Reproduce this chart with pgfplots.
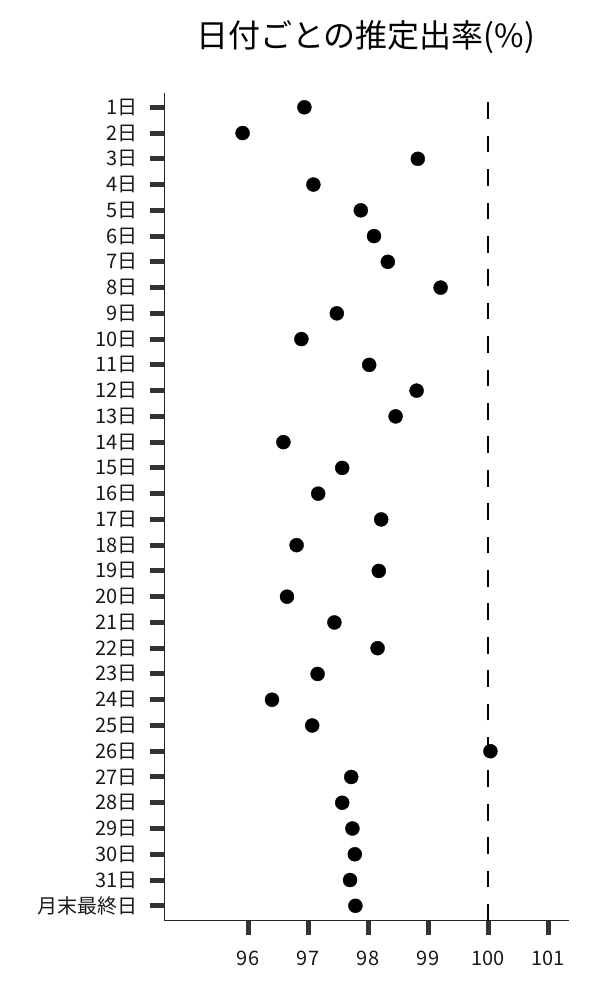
\documentclass[border=0pt]{standalone}
\usepackage{fontspec}
\setmainfont{Noto Sans CJK JP}
\usepackage{pgfplots}
\usepackage{pgfplotstable}
\pgfplotsset{compat=1.18}
\pgfplotstableread{
idx val
0 96.94
1 95.91
2 98.83
3 97.09
4 97.88
5 98.10
6 98.33
7 99.21
8 97.48
9 96.89
10 98.02
11 98.81
12 98.46
13 96.59
14 97.57
15 97.17
16 98.22
17 96.81
18 98.18
19 96.65
20 97.44
21 98.16
22 97.16
23 96.40
24 97.07
25 100.04
26 97.72
27 97.57
28 97.74
29 97.78
30 97.70
31 97.79
}\datatable
\begin{document}
\begin{tikzpicture}[x=1bp,y=1bp]
\useasboundingbox (0,0) rectangle (600,1000);
\begin{axis}[
  at={(164.3bp,79.3bp)}, anchor=south west,
  width=404.7bp, height=828bp, scale only axis,
  xmin=94.605, xmax=101.35,
  ymin=-0.567, ymax=31.58, y dir=reverse,
  axis x line*=bottom, axis y line*=left,
  axis line style={-, line width=1.3bp, black!85},
  xtick={96,97,98,99,100,101},
  ytick={0,...,31},
  yticklabels={1日,2日,3日,4日,5日,6日,7日,8日,9日,10日,11日,12日,13日,14日,15日,16日,17日,18日,19日,20日,21日,22日,23日,24日,25日,26日,27日,28日,29日,30日,31日,月末最終日},
  tick align=outside,
  major tick length=14.5bp,
  every tick/.style={line width=5bp, black!80},
  minor tick num=0,
  /pgf/number format/assume math mode=true,
  ticklabel style={font=\fontsize{20bp}{23bp}\selectfont, text=black!90},
  xticklabel style={yshift=-12bp},
  yticklabel style={xshift=-8.5bp},
  title={日付ごとの推定出率(\%)},
  title style={at={(0.5,1)}, anchor=center, yshift=50bp, xshift=-1.2bp, font=\fontsize{32bp}{36bp}\selectfont},
  clip=false,
]
\addplot[black, dash pattern=on 16.7bp off 16.7bp, line width=2bp] coordinates {(100,31.58) (100,-0.567)};
\addplot[only marks, mark=*, mark size=7bp, mark options={fill=black, draw=none}] table[x=val, y=idx] {\datatable};
\end{axis}
\end{tikzpicture}
\end{document}
